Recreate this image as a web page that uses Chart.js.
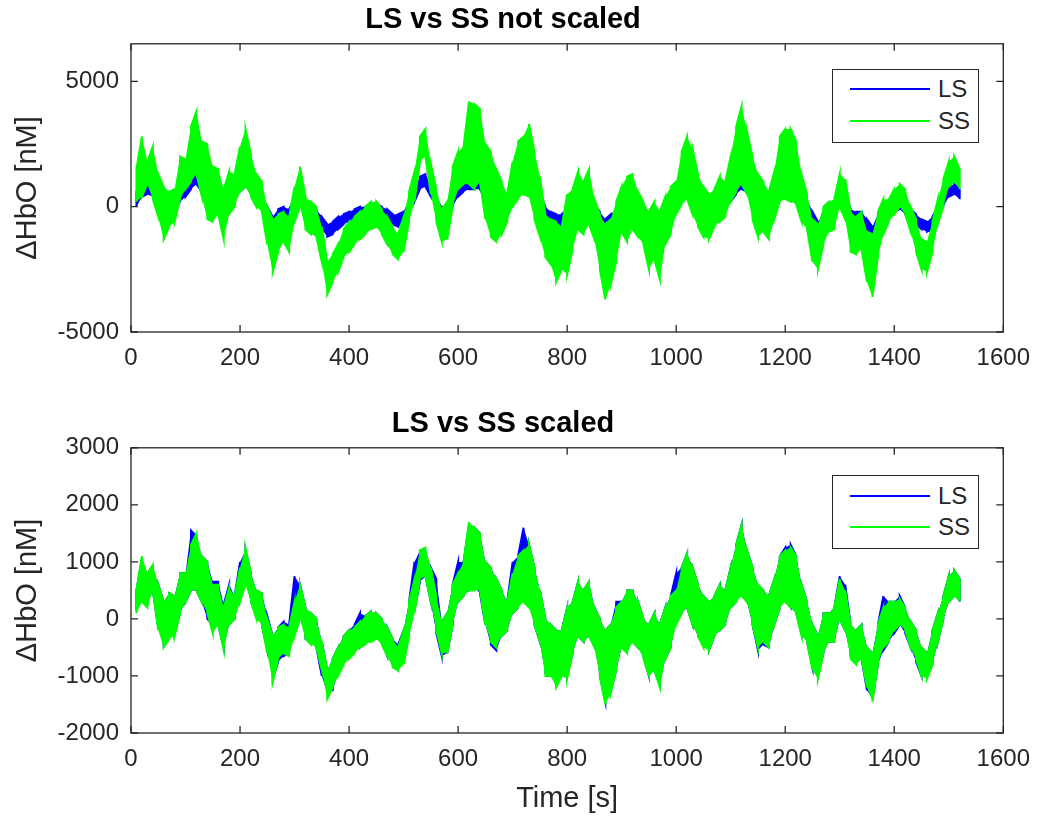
<!DOCTYPE html>
<html>
<head>
<meta charset="utf-8">
<script src="https://cdn.jsdelivr.net/npm/chart.js@4.4.0/dist/chart.umd.min.js"></script>
<style>
  body { margin: 0; background: #fff; width: 1042px; height: 816px; position: relative; overflow: hidden; font-family: "Liberation Sans", Arial, sans-serif; }
  canvas { position: absolute; left: 0; }
  #topChart { top: 0; }
  #bottomChart { top: 404px; }
  .legend { position: absolute; left: 832px; width: 145px; height: 72px; border: 1.5px solid #262626; background: #fff; }
  .legend .row { position: absolute; left: 0; width: 145px; height: 30px; }
  .legend .swatch { position: absolute; left: 17px; top: 14px; width: 80px; height: 2px; }
  .legend .lbl { position: absolute; left: 105px; top: 0; line-height: 30px; font-size: 24px; color: #262626; }
</style>
</head>
<body>
<canvas id="topChart" width="1042" height="404"></canvas>
<canvas id="bottomChart" width="1042" height="412"></canvas>

<div class="legend" style="top:69px">
  <div class="row" style="top:4px"><div class="swatch" style="background:#0000ff"></div><span class="lbl">LS</span></div>
  <div class="row" style="top:36px"><div class="swatch" style="background:#00ff00"></div><span class="lbl">SS</span></div>
</div>
<div class="legend" style="top:475px">
  <div class="row" style="top:5px"><div class="swatch" style="background:#0000ff"></div><span class="lbl">LS</span></div>
  <div class="row" style="top:36px"><div class="swatch" style="background:#00ff00"></div><span class="lbl">SS</span></div>
</div>

<script>
// sample times [s]
const time = [
  10, 20, 30, 40, 50, 60, 70, 80, 90, 100,
  110, 120, 130, 140, 150, 160, 170, 180, 190, 200,
  210, 220, 230, 240, 250, 260, 270, 280, 290, 300,
  310, 320, 330, 340, 350, 360, 370, 380, 390, 400,
  410, 420, 430, 440, 450, 460, 470, 480, 490, 500,
  510, 520, 530, 540, 550, 560, 570, 580, 590, 600,
  610, 620, 630, 640, 650, 660, 670, 680, 690, 700,
  710, 720, 730, 740, 750, 760, 770, 780, 790, 800,
  810, 820, 830, 840, 850, 860, 870, 880, 890, 900,
  910, 920, 930, 940, 950, 960, 970, 980, 990, 1000,
  1010, 1020, 1030, 1040, 1050, 1060, 1070, 1080, 1090, 1100,
  1110, 1120, 1130, 1140, 1150, 1160, 1170, 1180, 1190, 1200,
  1210, 1220, 1230, 1240, 1250, 1260, 1270, 1280, 1290, 1300,
  1310, 1320, 1330, 1340, 1350, 1360, 1370, 1380, 1390, 1400,
  1410, 1420, 1430, 1440, 1450, 1460, 1470, 1480, 1490, 1500,
  1510, 1520
];

// not scaled - SS (low / high of the noise band in each sample)
const topSSlo = [
  200, 400, 900, 300, -400, -1300, -800, -600, 300, 700,
  1000, 1300, 400, -500, -600, -300, -1300, -300, 0, 600,
  800, 400, 0, -200, -1500, -2600, -1800, -1400, -1800, -600,
  0, -900, -1100, -1200, -2200, -3500, -3000, -2600, -2000, -1800,
  -1500, -1300, -1100, -900, -800, -1100, -1500, -1900, -2100, -1800,
  -600, 200, 1800, 2000, 500, -600, -1400, -1300, 0, 700,
  900, 900, 700, 1000, -500, -1200, -1400, -1100, -600, 0,
  300, 500, 400, -500, -1200, -2000, -2300, -3000, -2500, -2700,
  -1700, -900, -1100, -700, -1300, -2500, -3700, -3100, -2200, -1000,
  -1400, -900, -1200, -1500, -2500, -2100, -2900, -1500, -1100, -300,
  100, 300, -300, -800, -1200, -1300, -800, -600, -400, 200,
  600, 900, 500, -500, -1200, -1000, -1300, -500, 200, 300,
  200, 100, -600, -900, -2200, -2500, -1500, -1000, -900, 0,
  -500, -1800, -1900, -1700, -3000, -3600, -2000, -1100, -600, -300,
  0, -300, -1000, -1800, -2500, -2600, -1800, -700, 0, 800,
  1000, 700
];
const topSShi = [
  1500, 2800, 1800, 2400, 1300, 800, 600, 700, 2000, 1900,
  3200, 3800, 2600, 2500, 1600, 1500, 700, 1400, 1300, 2400,
  3100, 2100, 1300, 1000, 0, -500, -300, -200, -400, 800,
  1600, 400, 200, 0, -800, -2200, -1900, -1500, -900, -600,
  -400, -200, 0, 200, 200, -100, -400, -800, -1100, -400,
  600, 1400, 2800, 3100, 1700, 700, -100, 200, 1600, 2200,
  2400, 4200, 4100, 3900, 2500, 2200, 1500, 1000, 500, 1800,
  2600, 2800, 3300, 2200, 1200, -300, -500, -600, -800, 500,
  700, 1400, 1000, 1500, 300, -300, -700, -500, 200, 800,
  1200, 1300, 600, 200, -200, 200, -200, 400, 800, 1000,
  2200, 2800, 2300, 1300, 800, 500, 700, 1200, 1000, 2000,
  3200, 4000, 3000, 2000, 1300, 1000, 600, 1400, 2800, 3100,
  3100, 2600, 1300, 500, -500, -700, 0, 200, 300, 1300,
  1100, -200, -400, -200, -1000, -1100, -200, 300, 300, 700,
  900, 700, 0, -500, -1300, -1400, -600, 300, 1100, 1800,
  2000, 1500
];
// not scaled - LS
const topLSlo = [
  0, 400, 500, 400, 0, -200, -200, -100, 200, 400,
  700, 900, 600, 400, 100, 0, -100, 0, 100, 600,
  800, 500, 200, 0, -500, -900, -500, -400, -500, -100,
  0, -300, -400, -500, -900, -1200, -1100, -900, -700, -600,
  -500, -400, -400, -300, -300, -400, -500, -700, -800, -700,
  -100, 200, 700, 800, 400, 0, -500, -500, 0, 400,
  600, 700, 700, 700, 300, 0, -100, 0, 0, 200,
  400, 500, 500, 300, -100, -500, -700, -900, -800, -700,
  -500, -200, -300, -100, -400, -800, -1200, -1000, -700, -400,
  -300, -200, -400, -500, -800, -700, -900, -500, -300, 0,
  200, 400, 200, -100, -400, -500, -300, -100, 0, 200,
  500, 700, 600, 200, -100, -200, -300, 0, 300, 400,
  400, 300, 0, -200, -700, -1000, -700, -500, -400, 100,
  0, -600, -700, -700, -900, -1300, -800, -500, -400, -200,
  -100, -300, -500, -700, -900, -1000, -900, -400, 0, 400,
  500, 300
];
const topLShi = [
  600, 1000, 900, 1000, 500, 400, 300, 400, 800, 900,
  1400, 1500, 1200, 1000, 700, 600, 400, 500, 600, 1100,
  1300, 1000, 700, 400, 0, -400, -100, 0, -100, 300,
  500, 100, 0, -100, -400, -700, -600, -400, -300, -200,
  -100, 0, 0, 100, 100, 0, -100, -300, -300, -200,
  300, 700, 1200, 1300, 900, 500, 0, -100, 500, 900,
  1100, 1600, 1700, 1500, 1000, 700, 600, 500, 400, 800,
  1100, 1200, 1300, 900, 500, 0, -200, -300, -300, -100,
  100, 300, 200, 300, 100, -200, -500, -300, -100, 200,
  300, 400, 200, 100, -200, -100, -300, 100, 300, 500,
  900, 1100, 900, 600, 300, 200, 300, 500, 500, 800,
  1200, 1500, 1300, 900, 600, 400, 300, 600, 1000, 1200,
  1100, 1000, 500, 300, -200, -600, -300, -100, 0, 600,
  500, -100, -200, -200, -500, -800, -300, 0, 100, 300,
  400, 200, -100, -300, -500, -600, -400, 0, 400, 800,
  900, 700
];

// scaled - SS
const botSSlo = [
  100, 300, 200, 500, -200, -500, -350, -300, 100, 300,
  500, 500, 300, 100, -250, -100, -550, -100, 0, 300,
  600, 300, 0, -100, -600, -1100, -700, -600, -650, -300,
  0, -350, -450, -500, -900, -1400, -1200, -1000, -800, -700,
  -600, -500, -450, -400, -350, -450, -650, -850, -900, -800,
  -300, 100, 700, 750, 300, -200, -600, -600, -100, 300,
  400, 500, 500, 500, -100, -400, -500, -300, -200, 100,
  200, 300, 200, -100, -400, -1000, -1000, -1200, -1000, -1050,
  -600, -300, -400, -300, -500, -1000, -1500, -1300, -900, -500,
  -600, -400, -500, -700, -1000, -900, -1200, -700, -500, -100,
  100, 200, -100, -300, -500, -550, -300, -200, -100, 200,
  300, 400, 300, -100, -500, -400, -500, -100, 200, 300,
  200, 100, -300, -400, -900, -1050, -600, -400, -400, 0,
  -200, -700, -800, -700, -1200, -1450, -800, -500, -400, -200,
  -100, -200, -500, -700, -1000, -1050, -800, -400, 0, 300,
  400, 300
];
const botSShi = [
  500, 1100, 800, 950, 600, 300, 450, 400, 800, 800,
  1300, 1500, 1100, 1000, 600, 600, 200, 550, 400, 900,
  1250, 800, 500, 450, 0, -300, -150, -100, -150, 300,
  600, 200, 100, 0, -400, -900, -700, -500, -300, -200,
  -150, -50, 50, 130, 100, 0, -150, -350, -500, -200,
  300, 700, 1200, 1250, 900, 400, -50, 100, 600, 800,
  1000, 1700, 1600, 1500, 1000, 900, 700, 500, 300, 800,
  1100, 1200, 1300, 900, 500, 0, -100, -200, -200, 200,
  300, 650, 500, 650, 200, 0, -200, -100, 200, 300,
  500, 500, 300, 0, -100, 100, -100, 200, 400, 500,
  900, 1150, 900, 600, 400, 300, 400, 600, 500, 900,
  1300, 1650, 1200, 900, 600, 500, 400, 700, 1100, 1200,
  1250, 1100, 600, 300, -100, -300, 100, 100, 200, 700,
  500, -100, -200, -100, -500, -600, -100, 200, 300, 300,
  350, 200, -50, -200, -500, -600, -200, 100, 400, 750,
  850, 700
];
// scaled - LS
const botLSlo = [
  150, 300, 250, 500, -150, -450, -300, -250, 100, 300,
  500, 500, 300, 0, -100, -100, -500, -100, 0, 350,
  650, 300, 50, -100, -550, -1050, -750, -650, -600, -250,
  100, -350, -400, -500, -1000, -1300, -1250, -950, -750, -650,
  -550, -500, -400, -350, -350, -400, -650, -800, -900, -750,
  -250, 150, 650, 750, 300, -250, -650, -600, -100, 300,
  400, 500, 550, 450, -100, -450, -550, -300, -200, 100,
  200, 350, 250, -100, -400, -950, -1000, -1150, -1000, -1000,
  -600, -300, -400, -300, -450, -1000, -1450, -1250, -900, -500,
  -550, -400, -500, -650, -1000, -900, -1150, -700, -500, -50,
  100, 200, -100, -300, -450, -550, -300, -200, -100, 200,
  300, 450, 300, -100, -550, -450, -500, -100, 200, 350,
  200, 100, -250, -400, -850, -1000, -600, -400, -400, 0,
  -200, -650, -750, -700, -1250, -1400, -800, -550, -400, -250,
  -100, -250, -500, -750, -1000, -1000, -800, -400, 0, 300,
  400, 300
];
const botLShi = [
  500, 1050, 800, 900, 600, 300, 450, 400, 800, 800,
  1550, 1450, 1100, 1000, 650, 650, 250, 600, 400, 1000,
  1200, 800, 500, 450, 50, -300, -150, -50, -100, 750,
  600, 200, 100, 0, -400, -900, -700, -500, -300, -200,
  -100, 100, 50, 130, 100, 0, -150, -350, -450, -200,
  300, 1000, 1200, 1200, 900, 700, -50, 100, 600, 1000,
  1000, 1650, 1600, 1500, 1000, 900, 700, 500, 300, 1000,
  1100, 1600, 1300, 900, 500, 0, -100, -200, -200, 200,
  300, 650, 500, 650, 200, 0, -200, -100, 300, 300,
  500, 500, 300, 0, -100, 100, -100, 200, 400, 800,
  900, 1150, 900, 600, 400, 300, 400, 600, 500, 900,
  1300, 1650, 1200, 900, 600, 500, 400, 700, 1100, 1250,
  1300, 1100, 600, 300, -100, -300, 100, 100, 200, 750,
  600, -100, -200, -100, -500, -600, -100, 400, 300, 300,
  400, 200, -50, -200, -500, -600, -200, 100, 400, 750,
  850, 700
];

// tick labels
const xTicks = [0, 200, 400, 600, 800, 1000, 1200, 1400, 1600];
const yTicksTop = [-5000, 0, 5000];
const yTicksBottom = [-2000, -1000, 0, 1000, 2000, 3000];

const FONT = '"Liberation Sans", Arial, Helvetica, sans-serif';
const AXIS_COLOR = '#262626';

// turn low/high pairs into a vertical-spike trace
function spikes(lo, hi) {
  const pts = [];
  time.forEach((t, i) => {
    if (i % 2 === 0) pts.push({ x: t, y: lo[i] }, { x: t, y: hi[i] });
    else pts.push({ x: t, y: hi[i] }, { x: t, y: lo[i] });
  });
  return pts;
}
function edge(vals) {
  return time.map((t, i) => ({ x: t, y: vals[i] }));
}

// one signal = spike trace + solid noise band behind it
function signal(name, color, lo, hi, order) {
  return [
    { label: name, data: spikes(lo, hi), borderColor: color, borderWidth: 2, order: order },
    { label: name + ' lo', data: edge(lo), borderWidth: 0, borderColor: 'transparent', fill: false, order: order + 0.5 },
    { label: name + ' hi', data: edge(hi), borderWidth: 0, borderColor: 'transparent',
      fill: '-1', backgroundColor: color, order: order + 0.5 }
  ];
}

// MATLAB style box with inward ticks on all four sides
const boxPlugin = {
  id: 'matlabBox',
  afterDraw(chart) {
    const { ctx, chartArea: a, scales: { x, y } } = chart;
    ctx.save();
    ctx.strokeStyle = AXIS_COLOR;
    ctx.lineWidth = 1.3;
    ctx.strokeRect(a.left, a.top, a.right - a.left, a.bottom - a.top);
    ctx.beginPath();
    x.ticks.forEach(t => {
      const px = x.getPixelForValue(t.value);
      ctx.moveTo(px, a.bottom); ctx.lineTo(px, a.bottom - 7);
      ctx.moveTo(px, a.top); ctx.lineTo(px, a.top + 7);
    });
    y.ticks.forEach(t => {
      const py = y.getPixelForValue(t.value);
      ctx.moveTo(a.left, py); ctx.lineTo(a.left + 7, py);
      ctx.moveTo(a.right, py); ctx.lineTo(a.right - 7, py);
    });
    ctx.stroke();
    ctx.restore();
  }
};

function makeChart(id, titleText, yMin, yMax, yTicks, lsLo, lsHi, ssLo, ssHi, xAxisHeight, showXTitle) {
  return new Chart(document.getElementById(id), {
    type: 'line',
    data: {
      datasets: [
        ...signal('SS', '#00ff00', ssLo, ssHi, 0),
        ...signal('LS', '#0000ff', lsLo, lsHi, 2)
      ]
    },
    options: {
      responsive: false,
      animation: false,
      parsing: false,
      layout: { padding: { left: 0, right: 36, top: 0, bottom: 0 } },
      elements: { point: { radius: 0 }, line: { tension: 0 } },
      plugins: {
        legend: { display: false },
        tooltip: { enabled: false },
        filler: { propagate: false },
        title: {
          display: true,
          text: titleText,
          color: '#000',
          font: { family: FONT, size: 29, weight: 'bold', lineHeight: 1.2 },
          padding: { top: 3, bottom: 6 }
        }
      },
      scales: {
        x: {
          type: 'linear',
          min: 0, max: 1600,
          afterBuildTicks: axis => { axis.ticks = xTicks.map(v => ({ value: v })); },
          afterFit: axis => { axis.height = xAxisHeight; },
          grid: { display: false, drawTicks: false },
          border: { display: false },
          ticks: { color: AXIS_COLOR, padding: 12, maxRotation: 0, autoSkip: false,
                   callback: v => String(v),
                   font: { family: FONT, size: 24 } },
          title: { display: showXTitle, text: 'Time [s]', color: AXIS_COLOR,
                   font: { family: FONT, size: 29, lineHeight: 1.2 }, padding: { top: 0, bottom: 0 } }
        },
        y: {
          type: 'linear',
          min: yMin, max: yMax,
          afterBuildTicks: axis => { axis.ticks = yTicks.map(v => ({ value: v })); },
          afterFit: axis => { axis.width = 131; },
          grid: { display: false, drawTicks: false },
          border: { display: false },
          ticks: { color: AXIS_COLOR, padding: 12, autoSkip: false,
                   callback: v => String(v),
                   font: { family: FONT, size: 24 } },
          title: { display: true, text: '\u0394HbO [nM]', color: AXIS_COLOR,
                   font: { family: FONT, size: 29, lineHeight: 1.2 }, padding: { top: 11, bottom: 0 } }
        }
      }
    },
    plugins: [boxPlugin]
  });
}

makeChart('topChart', 'LS vs SS not scaled', -5000, 6500, yTicksTop,
  topLSlo, topLShi, topSSlo, topSShi, 72, false);
makeChart('bottomChart', 'LS vs SS scaled', -2000, 3000, yTicksBottom,
  botLSlo, botLShi, botSSlo, botSShi, 83, true);
</script>
</body>
</html>
